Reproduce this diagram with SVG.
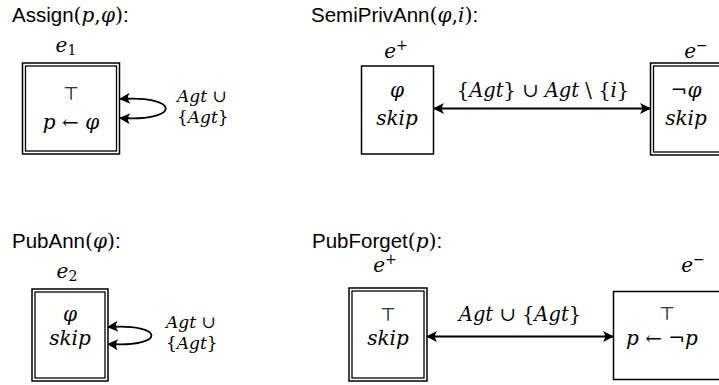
<svg xmlns="http://www.w3.org/2000/svg" width="719" height="385" viewBox="0 0 719 385">
<style>
.title{font-family:"Liberation Sans","DejaVu Sans",sans-serif;font-size:20.5px;fill:#000}
.m{font-family:"DejaVu Serif","Liberation Serif",serif;font-style:italic;font-size:20px;fill:#000}
.r{font-family:"DejaVu Serif","Liberation Serif",serif;font-style:normal}
.lbl{font-family:"DejaVu Serif","Liberation Serif",serif;font-style:italic;font-size:19.5px;fill:#000}
.loop{font-family:"DejaVu Serif","Liberation Serif",serif;font-style:italic;font-size:17px;fill:#000}
.top{font-family:"DejaVu Sans",sans-serif;font-style:normal;font-size:18px;fill:#000}
.box{fill:#fff;stroke:#000;stroke-width:1.5}
.dbl{fill:none;stroke:#000;stroke-width:1.3}
.edge{fill:none;stroke:#000;stroke-width:1.8}
</style>
<defs>
<marker id="ah" viewBox="-12 -7 14 14" markerWidth="14" markerHeight="14" refX="0" refY="0" orient="auto-start-reverse" markerUnits="userSpaceOnUse">
<path d="M1,0 L-10,-5.5 Q-6,0 -10,5.5 Z" fill="#000"/>
</marker>
</defs>

<g id="titles">
<text class="title" x="12" y="22">Assign<tspan class="r">(</tspan><tspan class="m">p</tspan><tspan class="r">,</tspan><tspan class="m">φ</tspan><tspan class="r">)</tspan>:</text>
<text class="title" x="311" y="22">SemiPrivAnn<tspan class="r">(</tspan><tspan class="m">φ</tspan><tspan class="r">,</tspan><tspan class="m">i</tspan><tspan class="r">)</tspan>:</text>
<text class="title" x="12" y="248">PubAnn<tspan class="r">(</tspan><tspan class="m">φ</tspan><tspan class="r">)</tspan>:</text>
<text class="title" x="312" y="248">PubForget<tspan class="r">(</tspan><tspan class="m">p</tspan><tspan class="r">)</tspan>:</text>
</g>

<g id="connectors">
<path class="edge" d="M120,99 C181,95 181,122 120,118" marker-start="url(#ah)" marker-end="url(#ah)"/>
<path class="edge" d="M434,108.5 L650,108.5" marker-start="url(#ah)" marker-end="url(#ah)"/>
<path class="edge" d="M108,327 C166,323 166,348 108,344" marker-start="url(#ah)" marker-end="url(#ah)"/>
<path class="edge" d="M427,336.5 L613,336.5" marker-start="url(#ah)" marker-end="url(#ah)"/>
<text class="loop" x="177" y="102">Agt <tspan class="r">∪</tspan></text>
<text class="loop" x="177" y="123"><tspan class="r">{</tspan>Agt<tspan class="r">}</tspan></text>
<text class="lbl" x="543" y="97" text-anchor="middle"><tspan class="r">{</tspan>Agt<tspan class="r">} ∪ </tspan>Agt<tspan class="r"> \ {</tspan>i<tspan class="r">}</tspan></text>
<text class="loop" x="166" y="328">Agt <tspan class="r">∪</tspan></text>
<text class="loop" x="166" y="349"><tspan class="r">{</tspan>Agt<tspan class="r">}</tspan></text>
<text class="lbl" x="520" y="321" text-anchor="middle">Agt<tspan class="r"> ∪ {</tspan>Agt<tspan class="r">}</tspan></text>
</g>

<g id="assign-e1">
<text class="m" x="66" y="52" text-anchor="middle">e<tspan class="r" font-size="14" dy="3">1</tspan></text>
<rect class="box" x="22.5" y="63" width="97" height="91"/>
<rect class="dbl" x="25.5" y="66" width="91" height="85"/>
<text class="top" x="71" y="100" text-anchor="middle">⊤</text>
<text class="m" x="71" y="129" text-anchor="middle">p <tspan class="r">←</tspan> φ</text>
</g>

<g id="semipriv-eplus">
<text class="m" x="396" y="58" text-anchor="middle">e<tspan class="r" font-size="14" dy="-8">+</tspan></text>
<rect class="box" x="361.5" y="66" width="72" height="88"/>
<text class="m" x="397" y="97" text-anchor="middle">φ</text>
<text class="m" x="397" y="125" text-anchor="middle">skip</text>
</g>

<g id="semipriv-eminus">
<text class="m" x="696" y="58" text-anchor="middle">e<tspan class="r" font-size="14" dy="-8">−</tspan></text>
<rect class="box" x="650.5" y="63" width="76" height="92"/>
<rect class="dbl" x="653.5" y="66" width="70" height="86"/>
<text class="m" x="686" y="97" text-anchor="middle"><tspan class="r">¬</tspan>φ</text>
<text class="m" x="686" y="125" text-anchor="middle">skip</text>
</g>

<g id="pubann-e2">
<text class="m" x="67" y="278" text-anchor="middle">e<tspan class="r" font-size="14" dy="3">2</tspan></text>
<rect class="box" x="32" y="289" width="76" height="92"/>
<rect class="dbl" x="35" y="292" width="70" height="86"/>
<text class="m" x="70" y="321" text-anchor="middle">φ</text>
<text class="m" x="70" y="345" text-anchor="middle">skip</text>
</g>

<g id="pubforget-eplus">
<text class="m" x="385" y="272" text-anchor="middle">e<tspan class="r" font-size="14" dy="-8">+</tspan></text>
<rect class="box" x="349" y="288" width="78" height="93"/>
<rect class="dbl" x="352" y="291" width="72" height="87"/>
<text class="top" x="388" y="321" text-anchor="middle">⊤</text>
<text class="m" x="388" y="345" text-anchor="middle">skip</text>
</g>

<g id="pubforget-eminus">
<text class="m" x="693" y="272" text-anchor="middle">e<tspan class="r" font-size="14" dy="-8">−</tspan></text>
<rect class="box" x="613.5" y="291.5" width="112" height="88"/>
<text class="top" x="667" y="320" text-anchor="middle">⊤</text>
<text class="m" x="662" y="345" text-anchor="middle">p <tspan class="r">← ¬</tspan>p</text>
</g>
</svg>
